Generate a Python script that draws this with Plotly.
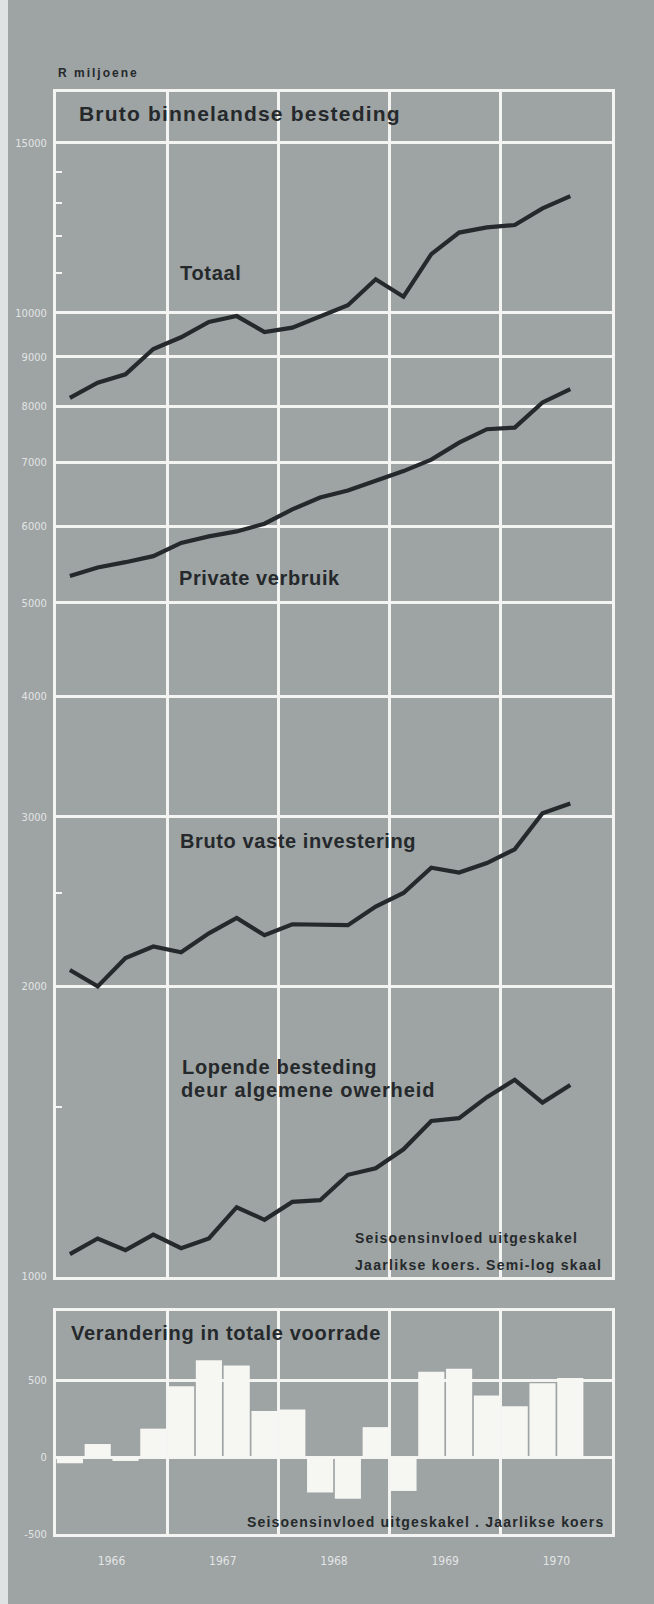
import plotly.graph_objects as go

# ---------------- data ----------------
years = [1966, 1967, 1968, 1969, 1970]
quarter_year = [1966] * 4 + [1967] * 4 + [1968] * 4 + [1969] * 4 + [1970] * 3
quarter_num = [1, 2, 3, 4] * 4 + [1, 2, 3]

totaal = [8160, 8460, 8630, 9170, 9430, 9780, 9920, 9550, 9650, 9920,
          10180, 10830, 10390, 11500, 12110, 12260, 12330, 12830, 13210]
private_verbruik = [5330, 5440, 5510, 5590, 5770, 5860, 5930, 6040, 6250, 6430,
                    6540, 6690, 6850, 7040, 7330, 7570, 7600, 8070, 8330]
vaste_investering = [2080, 2000, 2140, 2200, 2170, 2270, 2355, 2260, 2320, 2320,
                     2315, 2420, 2500, 2655, 2625, 2685, 2775, 3025, 3095]
owerheid = [1055, 1095, 1065, 1105, 1070, 1095, 1180, 1145, 1195, 1200,
            1275, 1295, 1355, 1450, 1460, 1535, 1600, 1515, 1580]
voorrade = [-40, 85, -25, 185, 460, 630, 595, 300, 310, -230,
            -270, 195, -220, 555, 575, 400, 330, 480, 515]

log_ticks = [1000, 2000, 3000, 4000, 5000, 6000, 7000, 8000, 9000, 10000, 15000]
log_minor = [1500, 2500, 11000, 12000, 13000, 14000]
bar_ticks = [-500, 0, 500]

# ---------------- styling ----------------
BG = "#9ea3a4"
INK = "#25292b"
GRID = "#f4f5f3"
TICKC = "#e2e5e5"
W, H = 654, 1604
ML, MR, MT, MB = 56, 42, 92, 70
PW, PH = W - ML - MR, H - MT - MB
FONT = "Liberation Sans, Arial, Helvetica, sans-serif"
NARROW = "Liberation Sans Narrow, DejaVu Sans Condensed, Liberation Sans, Arial"


def px_x(px):
    return (px - ML) / PW


def px_y(py):
    return (H - MB - py) / PH


x = [yr + (q - 0.5) / 4 for yr, q in zip(quarter_year, quarter_num)]

fig = go.Figure()
for series in (totaal, private_verbruik, vaste_investering, owerheid):
    fig.add_trace(go.Scatter(x=x, y=series, mode="lines",
                             line=dict(color=INK, width=4.2),
                             xaxis="x", yaxis="y", showlegend=False,
                             hoverinfo="skip"))

fig.add_trace(go.Bar(x=x, y=voorrade, xaxis="x2", yaxis="y2",
                     marker=dict(color="#f6f6f3", line=dict(width=0)),
                     showlegend=False, hoverinfo="skip"))

frame = dict(showline=True, linecolor=GRID, linewidth=3, mirror=True,
             zeroline=False, ticks="")

fig.update_layout(
    width=W, height=H,
    margin=dict(l=ML, r=MR, t=MT, b=MB),
    paper_bgcolor=BG, plot_bgcolor=BG,
    bargap=0.06,
    xaxis=dict(domain=[0, 1], anchor="y", range=[1966, 1971],
               tickvals=years[1:], showticklabels=False,
               showgrid=True, gridcolor=GRID, gridwidth=2.5, **frame),
    yaxis=dict(domain=[px_y(1276.5), 1], anchor="x", type="log",
               range=[3, 4.229], tickvals=log_ticks,
               ticktext=[str(v) for v in log_ticks],
               showgrid=True, gridcolor=GRID, gridwidth=2.5,
               tickfont=dict(family=NARROW, size=11, color=TICKC),
               ticklabelstandoff=4,
               minor=dict(tickvals=log_minor, ticks="inside", ticklen=6,
                          tickwidth=2, tickcolor=GRID, showgrid=False),
               **frame),
    xaxis2=dict(domain=[0, 1], anchor="y2", range=[1966, 1971],
                tickvals=[yr + 0.5 for yr in years],
                ticktext=[str(yr) for yr in years],
                tickfont=dict(family=NARROW, size=12, color=TICKC),
                ticklabelstandoff=14, showgrid=False,
                minor=dict(tickvals=years[1:], showgrid=True, gridcolor=GRID,
                           gridwidth=2.5, ticks=""),
                **frame),
    yaxis2=dict(domain=[0, px_y(1311)], anchor="x2", range=[-500, 950],
                tickvals=bar_ticks, ticktext=[str(v) for v in bar_ticks],
                showgrid=True, gridcolor=GRID, gridwidth=2.5,
                tickfont=dict(family=NARROW, size=11, color=TICKC),
                ticklabelstandoff=4, **frame),
)


def label(text, px, py, size, ls, xanchor="left"):
    fig.add_annotation(
        text=f'<span style="letter-spacing:{ls}px">{text}</span>',
        xref="paper", yref="paper", x=px_x(px), y=px_y(py),
        xanchor=xanchor, yanchor="middle", showarrow=False,
        font=dict(family=FONT, size=size, color=INK, weight="bold"))


label("R miljoene", 56, 73, 12, 2.0)
label("Bruto binnelandse besteding", 77, 114, 21, 1.2)
label("Totaal", 178, 273, 20, 0.7)
label("Private verbruik", 177, 578, 20, 0.6)
label("Bruto vaste investering", 178, 841, 20, 0.6)
label("Lopende besteding", 180, 1067, 20, 0.7)
label("deur algemene owerheid", 179, 1090, 20, 0.9)
label("Seisoensinvloed uitgeskakel", 353, 1238, 14, 1.2)
label("Jaarlikse koers. Semi-log skaal", 353, 1265, 14, 1.3)
label("Verandering in totale voorrade", 69, 1333, 20, 0.7)
label("Seisoensinvloed uitgeskakel . Jaarlikse koers", 245, 1522, 14, 1.2)

# light scan edge on the left
fig.add_shape(type="rect", xref="paper", yref="paper",
              x0=px_x(0), x1=px_x(8), y0=px_y(H), y1=px_y(0),
              fillcolor="#dfe2e2", line=dict(width=0), layer="below")

fig.write_html(
    "out.html",
    config={"displayModeBar": False},
    post_script="document.body.style.margin='0';document.body.style.padding='0';"
                "document.documentElement.style.overflow='hidden';",
)
